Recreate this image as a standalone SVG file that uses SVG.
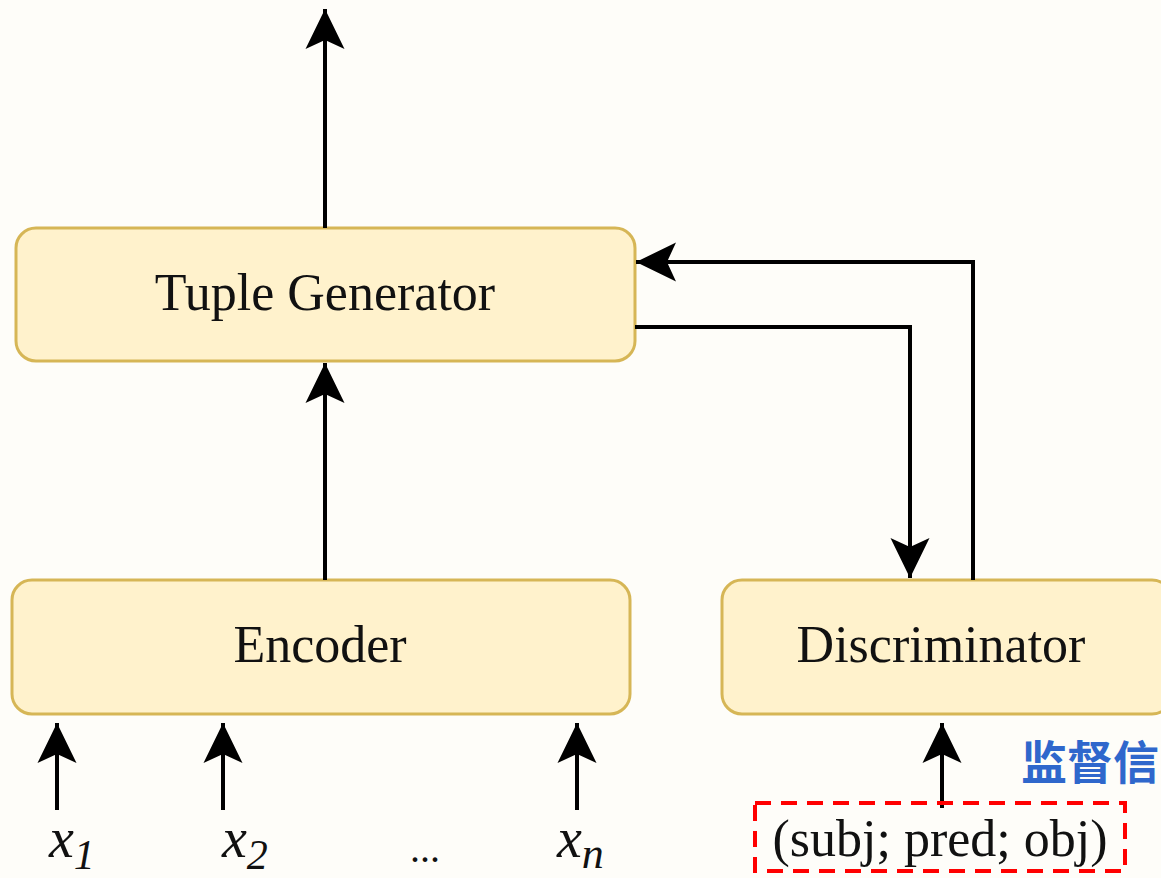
<svg xmlns="http://www.w3.org/2000/svg" width="1161" height="878" viewBox="0 0 1161 878">
  <defs>
    <marker id="arrow" markerUnits="userSpaceOnUse" markerWidth="44" markerHeight="44" viewBox="-42 -22 44 44" refX="0" refY="0" orient="auto">
      <path d="M0,0 L-40,-19.5 L-31,0 L-40,19.5 Z" fill="#000"/>
    </marker>
  </defs>
  <style>
    .box { fill: #fff2cc; stroke: #d6b656; stroke-width: 3; }
    .label { font-family: "Liberation Serif", "Times New Roman", serif; font-size: 52px; fill: #111; text-anchor: middle; }
    .var { font-family: "Liberation Serif", "Times New Roman", serif; font-style: italic; fill: #111; }
    .edge { fill: none; stroke: #000; stroke-width: 4; marker-end: url(#arrow); }
    .note { font-family: "Noto Sans CJK SC", "Noto Sans", sans-serif; font-weight: bold; font-size: 46px; fill: #2f67cc; }
  </style>
  <rect width="1161" height="878" fill="#fefdf9"/>

  <g id="tuple-generator">
    <rect class="box" x="16" y="228" width="619" height="133" rx="20"/>
    <text class="label" x="325" y="310">Tuple Generator</text>
  </g>

  <g id="encoder">
    <rect class="box" x="12" y="580" width="618" height="134" rx="20"/>
    <text class="label" x="320" y="662">Encoder</text>
  </g>

  <g id="discriminator">
    <rect class="box" x="722" y="580" width="450" height="134" rx="20"/>
    <text class="label" x="941" y="662">Discriminator</text>
  </g>

  <g id="connectors">
    <path class="edge" d="M325,228 L325,9"/>
    <path class="edge" d="M325,580 L325,363"/>
    <path class="edge" d="M635,327 L910,327 L910,578"/>
    <path class="edge" d="M973,580 L973,262 L636,262"/>
    <path class="edge" d="M57,810 L57,723"/>
    <path class="edge" d="M223,810 L223,723"/>
    <path class="edge" d="M577,810 L577,723"/>
    <path class="edge" d="M942,808 L942,723"/>
  </g>

  <g id="inputs">
    <text class="var" x="49" y="857" font-size="56">x<tspan font-size="42" dy="12">1</tspan></text>
    <text class="var" x="222" y="857" font-size="56">x<tspan font-size="42" dy="12">2</tspan></text>
    <text x="425" y="862" font-family="Liberation Serif, serif" font-size="40" fill="#111" text-anchor="middle">...</text>
    <text class="var" x="557" y="857" font-size="56">x<tspan font-size="44" dy="11">n</tspan></text>
  </g>

  <g id="supervision">
    <rect x="755" y="803" width="370" height="68" fill="none" stroke="#ff0000" stroke-width="4" stroke-dasharray="16 10"/>
    <text class="label" x="940" y="856">(subj; pred; obj)</text>
    <text class="note" x="1021" y="779">监督信</text>
  </g>
</svg>
